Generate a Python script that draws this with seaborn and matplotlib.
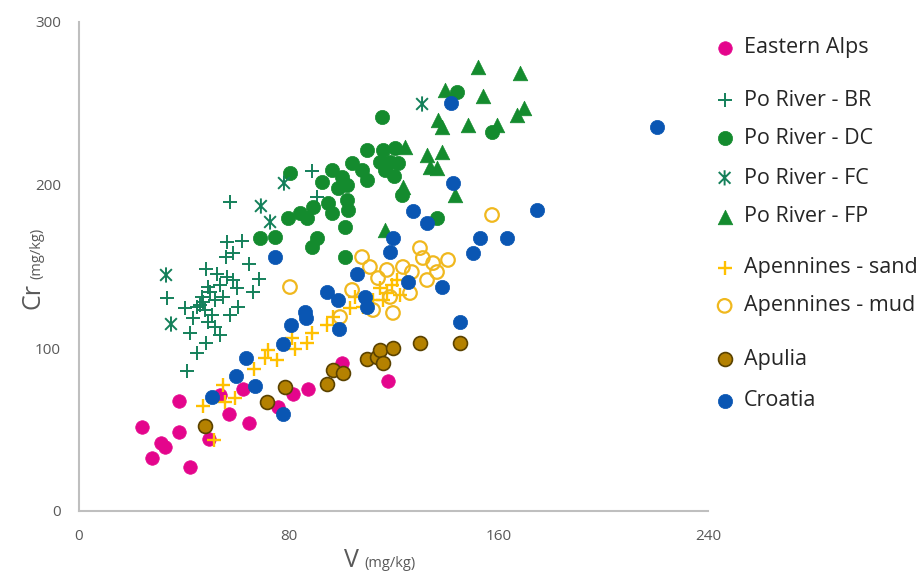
"""Cr vs V scatter by source region (Eastern Alps, Po River, Apennines, Apulia, Croatia)."""
import matplotlib
matplotlib.use("Agg")
import matplotlib.pyplot as plt
from matplotlib.path import Path
import seaborn as sns

# values (V, Cr in mg/kg)
alps_v = [24.0, 27.9, 31.3, 32.8, 38.2, 38.2, 42.4, 49.6, 53.8, 57.2, 62.6, 64.9, 75.9, 81.6, 87.4, 100.3, 117.9]
alps_cr = [51.5, 32.5, 41.7, 39.3, 67.5, 48.5, 27.0, 44.2, 71.2, 59.5, 74.8, 54.0, 63.8, 71.8, 74.8, 90.8, 79.8]

br_v = [57.6, 56.5, 62.2, 58.8, 56.1, 64.9, 48.5, 52.7, 56.5, 58.8, 68.7, 49.2, 53.8, 60.3, 66.4, 33.6, 46.9,
        54.9, 47.3, 40.4, 45.0, 60.7, 57.6, 50.7, 43.5, 49.2, 51.9, 42.4, 53.8, 48.5, 45.0, 41.2, 88.9, 90.8,
        50.0, 46.2, 51.9, 48.1]
br_cr = [189.6, 165.0, 165.6, 158.3, 155.8, 151.5, 148.5, 145.4, 143.6, 141.7, 142.3, 137.4, 138.7, 136.8,
         134.4, 130.7, 131.3, 131.3, 128.2, 124.5, 125.2, 125.2, 120.2, 120.2, 118.4, 116.0, 112.9, 109.2,
         108.0, 103.1, 96.9, 85.9, 208.6, 192.6, 134.4, 126.4, 129.4, 123.3]

dc_v = [115.6, 109.9, 116.0, 120.6, 114.8, 118.7, 121.7, 116.7, 120.2, 104.2, 108.0, 109.9, 96.5, 100.3,
        102.3, 98.8, 92.7, 80.5, 123.2, 102.3, 95.0, 102.6, 96.5, 89.3, 84.3, 79.7, 87.0, 136.6, 101.5,
        90.8, 88.9, 74.8, 69.1, 101.5, 144.2, 157.6]
dc_cr = [241.7, 221.5, 221.5, 222.7, 214.1, 214.1, 213.5, 209.2, 205.5, 213.5, 209.2, 203.1, 209.2, 204.9,
         200.0, 198.2, 201.8, 207.4, 193.9, 190.8, 189.0, 184.7, 182.8, 186.5, 182.8, 179.8, 179.8, 179.8,
         174.2, 167.5, 162.0, 168.1, 167.5, 155.8, 257.1, 232.5]

fc_v = [33.2, 35.1, 69.4, 72.9, 78.2, 130.9]
fc_cr = [144.8, 114.7, 187.1, 177.3, 201.2, 249.7]

fp_v = [152.2, 168.3, 139.6, 154.1, 169.8, 167.1, 137.0, 138.5, 148.4, 159.5, 132.8, 138.5, 133.9, 136.6,
        143.5, 124.4, 123.6, 116.7]
fp_cr = [272.4, 268.7, 258.3, 254.6, 247.2, 242.9, 239.9, 235.6, 236.8, 236.8, 218.4, 220.2, 211.0, 210.4,
         193.9, 223.3, 198.8, 172.4]

sand_v = [51.5, 47.3, 55.7, 54.9, 59.5, 66.8, 71.0, 72.1, 75.5, 81.3, 82.4, 87.0, 88.9, 94.6, 96.9, 103.4,
          105.3, 108.4, 112.2, 114.8, 116.0, 117.5, 119.4, 121.3, 122.5]
sand_cr = [43.6, 64.4, 66.9, 77.3, 69.3, 87.1, 93.9, 98.8, 92.6, 106.1, 99.4, 103.1, 109.2, 114.1, 119.0,
           124.5, 131.3, 125.2, 129.4, 136.8, 129.4, 133.7, 138.7, 141.7, 132.5]

mud_v = [80.5, 104.2, 108.0, 111.0, 117.5, 123.6, 130.1, 131.2, 135.1, 140.8, 136.6, 132.8, 127.0, 126.3,
         118.7, 114.1, 112.2, 119.8, 99.6, 157.6]
mud_cr = [137.4, 135.6, 155.8, 149.7, 147.9, 149.7, 161.3, 155.2, 152.1, 154.0, 146.6, 141.7, 146.6, 133.7,
          131.3, 142.9, 123.3, 121.5, 119.0, 181.6]

apulia_v = [48.1, 71.7, 78.6, 94.6, 96.9, 100.7, 109.9, 113.7, 114.8, 116.0, 119.8, 130.1, 145.4]
apulia_cr = [52.1, 66.9, 76.1, 77.9, 86.5, 84.7, 93.3, 94.5, 98.8, 90.8, 100.0, 103.1, 103.1]

croatia_v = [220.5, 174.7, 163.3, 153.0, 150.3, 145.4, 142.7, 141.9, 132.8, 127.4, 119.8, 118.7, 138.5,
             125.5, 109.1, 109.9, 106.1, 98.8, 94.6, 99.2, 86.2, 86.6, 80.9, 77.8, 74.8, 63.7, 59.9, 67.2,
             50.7, 77.8]
croatia_cr = [235.6, 184.7, 167.5, 167.5, 158.3, 116.0, 201.2, 250.3, 176.7, 184.0, 167.5, 158.9, 137.4,
              140.5, 131.3, 125.2, 145.4, 129.4, 134.4, 111.7, 122.1, 118.4, 114.1, 102.5, 155.8, 93.9, 82.8,
              76.7, 69.9, 59.5]

x_ticks = [0, 80, 160, 240]
y_ticks = [0, 100, 200, 300]

# X with a vertical bar, like the spreadsheet "star" marker
star = Path([(-1, -1), (1, 1), (-1, 1), (1, -1), (0, -1.3), (0, 1.3)],
            [Path.MOVETO, Path.LINETO] * 3)

TEAL = "#14805A"
GREEN = "#148B2E"
series = [
    ("Eastern Alps", alps_v, alps_cr, dict(marker="o", s=95, color="#E4058C", edgecolor="#E4058C", linewidth=0.5)),
    ("Po River - BR", br_v, br_cr, dict(marker="+", s=105, color=TEAL, linewidth=1.4)),
    ("Po River - DC", dc_v, dc_cr, dict(marker="o", s=105, color=GREEN, edgecolor=GREEN, linewidth=0.5)),
    ("Po River - FC", fc_v, fc_cr, dict(marker=star, s=120, color=TEAL, facecolors="none", edgecolor=TEAL, linewidth=1.4)),
    ("Po River - FP", fp_v, fp_cr, dict(marker="^", s=110, color=GREEN, edgecolor=GREEN, linewidth=0.5)),
    ("Apennines - sand", sand_v, sand_cr, dict(marker="+", s=95, color="#FFC000", linewidth=1.7)),
    ("Apennines - mud", mud_v, mud_cr, dict(marker="o", s=95, color="#F0B81E", facecolors="none", edgecolor="#F0B81E", linewidth=1.6)),
    ("Apulia", apulia_v, apulia_cr, dict(marker="o", s=100, color="#B48100", edgecolor="#5A4200", linewidth=1.2)),
    ("Croatia", croatia_v, croatia_cr, dict(marker="o", s=105, color="#0A56B3", edgecolor="#0A56B3", linewidth=0.5)),
]

sns.set_theme(style="white")
plt.rcParams["font.family"] = ["Open Sans", "DejaVu Sans"]

fig = plt.figure(figsize=(9.2, 5.75), dpi=100)
ax = fig.add_axes([79 / 920, 1 - 511 / 575, 629 / 920, 489 / 575])

for label, v, cr, style in series:
    sns.scatterplot(x=v, y=cr, ax=ax, label=label, legend=False, **style)

ax.set_xlim(0, 240)
ax.set_ylim(0, 300)
ax.set_xticks(x_ticks)
ax.set_yticks(y_ticks)
ax.tick_params(length=0, labelsize=11, labelcolor="#595959")
ax.tick_params(axis="x", pad=13)
ax.tick_params(axis="y", pad=13)
sns.despine(ax=ax)
for side in ["left", "bottom"]:
    ax.spines[side].set_color("#BFBFBF")
    ax.spines[side].set_linewidth(1.5)

# axis titles: big symbol + small unit
fig.text(359 / 920, 1 - 567 / 575, "V", fontsize=18, color="#595959", ha="right", va="baseline")
fig.text(364 / 920, 1 - 567 / 575, "(mg/kg)", fontsize=10.5, color="#595959", ha="left", va="baseline")
fig.text(40 / 920, 1 - 283 / 575, "Cr", fontsize=18, color="#595959", rotation=90,
         rotation_mode="anchor", ha="right", va="baseline")
fig.text(40 / 920, 1 - 279 / 575, "(mg/kg)", fontsize=10.5, color="#595959", rotation=90,
         rotation_mode="anchor", ha="left", va="baseline")

# one legend per row so the grouped spacing can be kept
handles, labels = ax.get_legend_handles_labels()
row_y = [48, 100, 138, 178, 217, 268, 306, 359, 401]
for h, lab, y in zip(handles, labels, row_y):
    leg = ax.legend([h], [lab], loc="center left", bbox_to_anchor=(716 / 920, 1 - y / 575),
                    bbox_transform=fig.transFigure, frameon=False, fontsize=15.5, borderpad=0,
                    borderaxespad=0, handlelength=0.8, handletextpad=0.5, labelcolor="#262626")
    ax.add_artist(leg)
ax.legend_ = None  # the last one is already added as an artist

fig.savefig("out.png", dpi=100, facecolor="white")
